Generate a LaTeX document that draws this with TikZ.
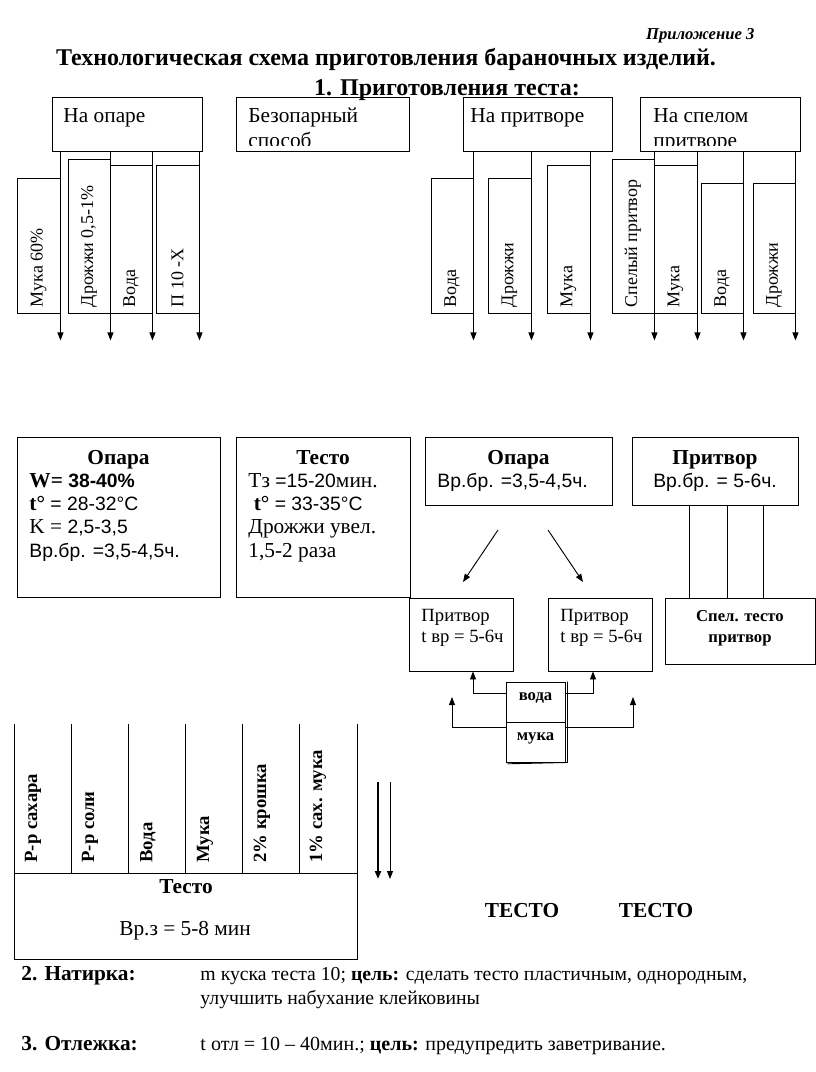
\documentclass[tikz,border=0pt]{standalone}
\usepackage{fontspec}
\setmainfont{Liberation Serif}
\newfontfamily\arialf{Liberation Sans}
\usetikzlibrary{arrows.meta,fit}
\newcommand\fsz[2]{\fontsize{#1}{#2}\selectfont}
\newcommand\leftlines[1]{\begin{tabular}[t]{@{}l@{}}#1\end{tabular}}
\newcommand\midlines[1]{\begin{tabular}[t]{@{}c@{}}#1\end{tabular}}
\newcommand\nums[1]{{\fontsize{14.5}{17.6}\arialf #1}}
\begin{document}
\begin{tikzpicture}
    [x=0.75pt, y=-0.75pt, line width=0.7pt,
     >={Triangle[length=6pt,width=4.5pt]},
     box/.style={draw, inner sep=0pt, fit={#1}},
     vlab/.style={rotate=90, anchor=west, inner sep=0pt, font=\fsz{13.5}{16}},
     vcol/.style={rotate=90, anchor=west, inner sep=0pt, font=\fsz{14}{16}\bfseries},
     txt/.style={anchor=base west, inner sep=0pt, font=\fsz{16}{18.5}},
     head/.style={anchor=base, inner sep=0pt, font=\fsz{16}{18}\bfseries},
     small/.style={anchor=base west, inner sep=0pt, font=\fsz{14}{15.75}}]
    \useasboundingbox (0,0) rectangle (816,1072);
    \node [anchor=base east, inner sep=0pt, font=\fsz{12.5}{14}\bfseries\itshape] (app) at (755,39) {Приложение 3};
    \node [head, font=\fsz{18}{20}\bfseries] (title) at (386,65) {Технологическая схема приготовления бараночных изделий.};
    \node [head, font=\fsz{18}{20}\bfseries] (sub) at (447,95) {1. Приготовления теста:};
    \node [box={(52,97)(202,151)}] (opare) {};
    \node [box={(236,97)(409,151)}] (bezop) {};
    \node [box={(463,97)(612,151)}] (pritv) {};
    \node [box={(640,97)(800,151)}] (spel) {};
    \node [txt] (opareT) at (63,122.5) {На опаре};
    \node [txt] (pritvT) at (470,122.5) {На притворе};
    \begin{scope}
      \clip (bezop.north west) rectangle ([yshift=4.5pt]spel.south east);
      \node [txt] (bezopT) at (248,122.5) {\leftlines{Безопарный\\способ}};
      \node [txt] (spelT) at (653,122.5) {\leftlines{На спелом\\притворе}};
    \end{scope}
    \node [box={(17,178)(60,313)}] (ing1) {};
    \node [box={(68,159)(110,313)}] (ing2) {};
    \node [box={(110,165)(152,313)}] (ing3) {};
    \node [box={(156,165)(199,313)}] (ing4) {};
    \node [box={(431,178)(473,313)}] (ing5) {};
    \node [box={(488,178)(531,313)}] (ing6) {};
    \node [box={(547,165)(590,313)}] (ing7) {};
    \node [box={(612,159)(654,313)}] (ing8) {};
    \node [box={(654,165)(697,313)}] (ing9) {};
    \node [box={(701,183)(743,313)}] (ing10) {};
    \node [box={(753,183)(795,313)}] (ing11) {};
    \node [vlab] (ing1T) at ([yshift=4.5pt]ing1.south) {Мука 60\%};
    \node [vlab] (ing2T) at ([yshift=4.5pt]ing2.south) {Дрожжи 0,5-1\%};
    \node [vlab] (ing3T) at ([yshift=4.5pt]ing3.south) {Вода};
    \node [vlab] (ing4T) at ([yshift=4.5pt]ing4.south) {П 10 -Х};
    \node [vlab] (ing5T) at ([yshift=4.5pt]ing5.south) {Вода};
    \node [vlab] (ing6T) at ([yshift=4.5pt]ing6.south) {Дрожжи};
    \node [vlab] (ing7T) at ([yshift=4.5pt]ing7.south) {Мука};
    \node [vlab] (ing8T) at ([yshift=4.5pt]ing8.south) {Спелый притвор};
    \node [vlab] (ing9T) at ([yshift=4.5pt]ing9.south) {Мука};
    \node [vlab] (ing10T) at ([yshift=4.5pt]ing10.south) {Вода};
    \node [vlab] (ing11T) at ([yshift=4.5pt]ing11.south) {Дрожжи};
    \draw [->] (opare.south -| ing1.east) -- ([yshift=-20.25pt]ing1.south east);
    \draw [->] (opare.south -| ing2.east) -- ([yshift=-20.25pt]ing2.south east);
    \draw [->] (opare.south -| ing3.east) -- ([yshift=-20.25pt]ing3.south east);
    \draw [->] (opare.south -| ing4.east) -- ([yshift=-20.25pt]ing4.south east);
    \draw [->] (pritv.south -| ing5.east) -- ([yshift=-20.25pt]ing5.south east);
    \draw [->] (pritv.south -| ing6.east) -- ([yshift=-20.25pt]ing6.south east);
    \draw [->] (pritv.south -| ing7.east) -- ([yshift=-20.25pt]ing7.south east);
    \draw [->] (spel.south -| ing8.east) -- ([yshift=-20.25pt]ing8.south east);
    \draw [->] (spel.south -| ing9.east) -- ([yshift=-20.25pt]ing9.south east);
    \draw [->] (spel.south -| ing10.east) -- ([yshift=-20.25pt]ing10.south east);
    \draw [->] (spel.south -| ing11.east) -- ([yshift=-20.25pt]ing11.south east);
    \node [box={(17,437)(220,597)}] (opara1) {};
    \node [head] (opara1H) at (118.5,464) {Опара};
    \node [txt, font=\fsz{16}{17.6}] (opara1T) at (29,487)
      {\leftlines{{\bfseries W= \nums{38-40\%}}\\{\bfseries t°} \nums{= 28-32°C}\\K = \nums{2,5-3,5}\\\nums{Вр.бр. =3,5-4,5ч.}}};
    \node [box={(236,437)(410,597)}] (testo1) {};
    \node [head] (testo1H) at (323,464) {Тесто};
    \node [txt, font=\fsz{16}{17.6}] (testo1T) at (248,487)
      {\leftlines{Тз \nums{=15-20}мин.\\\ {\bfseries t°} \nums{= 33-35°C}\\Дрожжи увел.\\1,5-2 раза}};
    \node [box={(425,437)(612,505)}] (opara2) {};
    \node [head] (opara2H) at (518.5,464) {Опара};
    \node [txt] (opara2T) at (437,487) {\nums{Вр.бр. =3,5-4,5ч.}};
    \node [box={(632,437)(798,505)}] (pritv2) {};
    \node [head] (pritv2H) at (715,464) {Притвор};
    \node [head, font=\fsz{16}{18}] (pritv2T) at (715,487) {\nums{Вр.бр. = 5-6ч.}};
    \coordinate (d1a) at (498,530);
    \coordinate (d1b) at (463,582);
    \coordinate (d2a) at (548,530);
    \coordinate (d2b) at (583,582);
    \draw [->] (d1a) -- (d1b);
    \draw [->] (d2a) -- (d2b);
    \node [box={(409,598)(513,671)}] (pritvA) {};
    \node [small] (pritvAT) at (421,621) {\leftlines{Притвор\\t вр = 5-6ч}};
    \node [box={(548,598)(652,671)}] (pritvB) {};
    \node [small] (pritvBT) at (560,621) {\leftlines{Притвор\\t вр = 5-6ч}};
    \node [box={(665,598)(815,664)}] (spelt) {};
    \node [small, anchor=base, font=\fsz{12.5}{15.75}\bfseries] (speltT) at (740,621) {\midlines{Спел. тесто\\притвор}};
    \draw ([xshift=-19.5pt]pritv2.south) -- ([xshift=-19.5pt]pritv2.south |- spelt.north);
    \draw ([xshift=9pt]pritv2.south) -- ([xshift=9pt]pritv2.south |- spelt.north);
    \draw ([xshift=36pt]pritv2.south) -- ([xshift=36pt]pritv2.south |- spelt.north);
    \node [box={(506,682)(565,722)}, font=\fsz{12.5}{14}\bfseries] (voda) {вода};
    \node [box={(506,722)(565,762)}, font=\fsz{12.5}{14}\bfseries] (muka) {мука};
    \draw ([xshift=1.5pt]voda.north east) -- ([xshift=1.5pt]muka.south east) -- ([xshift=1.5pt,yshift=-1pt]muka.south west);
    \draw [->] ([yshift=6.75pt]voda.west) -| ([xshift=9pt]pritvA.south);
    \draw [->] ([yshift=6.75pt]voda.east) -| ([xshift=-5.25pt]pritvB.south);
    \coordinate (mL) at (452,697);
    \coordinate (mR) at (633,697);
    \draw [->] ([yshift=11.25pt]muka.west) -| (mL);
    \draw [->] ([yshift=11.25pt]muka.east) -| (mR);
    \draw (14,724) -- (14,873) (71,724) -- (71,873) (128,724) -- (128,873) (185,724) -- (185,873)
          (242,724) -- (242,873) (299,724) -- (299,873) (357,724) -- (357,873);
    \node [box={(14,873)(357,959)}] (testo3) {};
    \node [vcol] (col1) at (33,863) {Р-р сахара};
    \node [vcol] (col2) at (90,863) {Р-р соли};
    \node [vcol] (col3) at (148,863) {Вода};
    \node [vcol] (col4) at (205,863) {Мука};
    \node [vcol] (col5) at (262,863) {2\% крошка};
    \node [vcol] (col6) at (318,863) {1\% сах. мука};
    \node [head] (testo3H) at (186,893) {Тесто};
    \node [txt, anchor=base] (testo3T) at (185,935) {Вр.з = 5-8 мин};
    \coordinate (s1) at (378,782);
    \coordinate (e1) at (378,879);
    \coordinate (s2) at (390,782);
    \coordinate (e2) at (390,879);
    \draw [->, line width=1.5pt] (s1) -- (e1);
    \draw [->] (s2) -- (e2);
    \node [head] (res1) at (522,917) {ТЕСТО};
    \node [head] (res2) at (656,917) {ТЕСТО};
    \node [txt, font=\fsz{16}{18}\bfseries] (st2) at (21,980) {2. Натирка:};
    \node [txt, font=\fsz{14.8}{18}] (st2T) at (200,980)
      {\leftlines{m куска теста 10; \textbf{цель:} сделать тесто пластичным, однородным,\\улучшить набухание клейковины}};
    \node [txt, font=\fsz{16}{18}\bfseries] (st3) at (21,1050) {3. Отлежка:};
    \node [txt, font=\fsz{15}{18}] (st3T) at (200,1050) {t отл = 10 – 40мин.; \textbf{цель:} предупредить заветривание.};
\end{tikzpicture}
\end{document}
